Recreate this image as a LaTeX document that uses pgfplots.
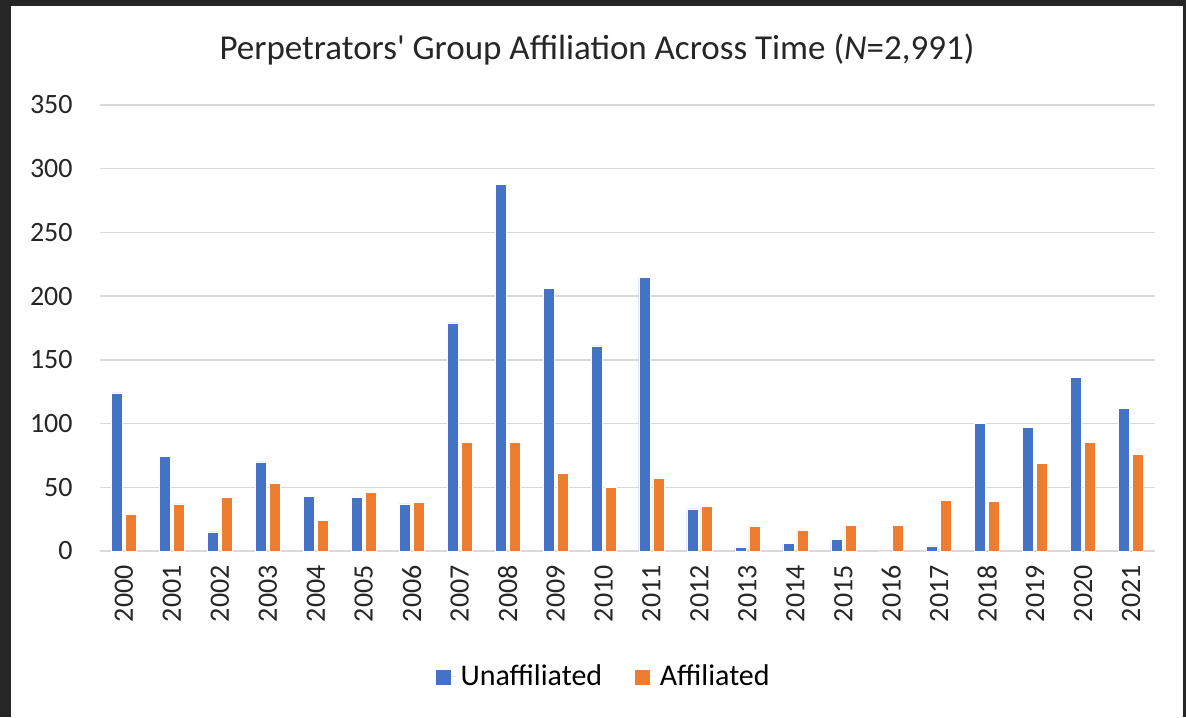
\documentclass[border=0pt]{standalone}
\usepackage{pgfplots}
\pgfplotsset{compat=1.18}
\usepackage{fontspec}
\setmainfont{Carlito}[Ligatures=TeXOff]
\definecolor{unaff}{HTML}{4472C4}
\definecolor{aff}{HTML}{ED7D31}
\definecolor{gridgray}{HTML}{D9D9D9}
\definecolor{frame}{HTML}{262626}

\pgfplotstableread{
idx year unaff aff
0  2000 124 29
1  2001 74  37
2  2002 15  42
3  2003 70  53
4  2004 43  24
5  2005 42  46
6  2006 37  38
7  2007 179 85
8  2008 288 85
9  2009 206 61
10 2010 161 50
11 2011 215 57
12 2012 33  35
13 2013 3   19
14 2014 6   16
15 2015 9   20
16 2016 0   20
17 2017 4   40
18 2018 100 39
19 2019 97  69
20 2020 136 85
21 2021 112 76
}\datatable

\begin{document}
\begin{tikzpicture}
% page is 1186x717 px at 2 px per pt; plot box lower left at (0,0)
\useasboundingbox (-50pt,-83pt) rectangle (543pt,275.5pt);
\fill[frame] (-50pt,-83pt) rectangle (543pt,275.5pt);
\fill[white] (-44.5pt,-83pt) rectangle (541.5pt,272.5pt);
\begin{axis}[
    scale only axis,
    width=527.5pt,
    height=223pt,
    ybar=1.5pt,
    bar width=5.5pt,
    xmin=-0.5, xmax=21.5,
    ymin=0, ymax=350,
    ytick={0,50,...,350},
    xtick=data,
    xticklabels from table={\datatable}{year},
    major tick length=0pt,
    axis line style={draw=none},
    ymajorgrids,
    grid style={gridgray, line width=0.75pt},
    /pgf/number format/assume math mode=true,
    tick label style={font=\fontsize{14}{16}\selectfont, text=black!85},
    xticklabel style={rotate=90, anchor=east, inner sep=0pt, xshift=-7pt},
    yticklabel style={anchor=east, inner sep=0pt, xshift=-13.5pt},
    legend style={at={(rel axis cs:0.478,-0.2825)}, anchor=center,
        draw=none, fill=none, font=\fontsize{15}{17}\selectfont,
        legend columns=2, column sep=0pt,
        /tikz/every even column/.append style={column sep=14pt}},
    legend image code/.code={\fill[#1] (0pt,-4pt) rectangle (8pt,4pt);
        \path (8pt,0pt) -- (10.5pt,0pt);},
]
\addplot[fill=unaff, draw=white, line width=0.3pt] table[x=idx, y=unaff] {\datatable};
\addplot[fill=aff, draw=white, line width=0.3pt] table[x=idx, y=aff] {\datatable};
\legend{Unaffiliated, Affiliated}
\end{axis}
\node[font=\fontsize{17.5}{20}\selectfont, text=black!85] at (248.5pt,250.5pt)
    {Perpetrators' Group Affiliation Across Time (\textit{N}=2,991)};
\end{tikzpicture}
\end{document}
